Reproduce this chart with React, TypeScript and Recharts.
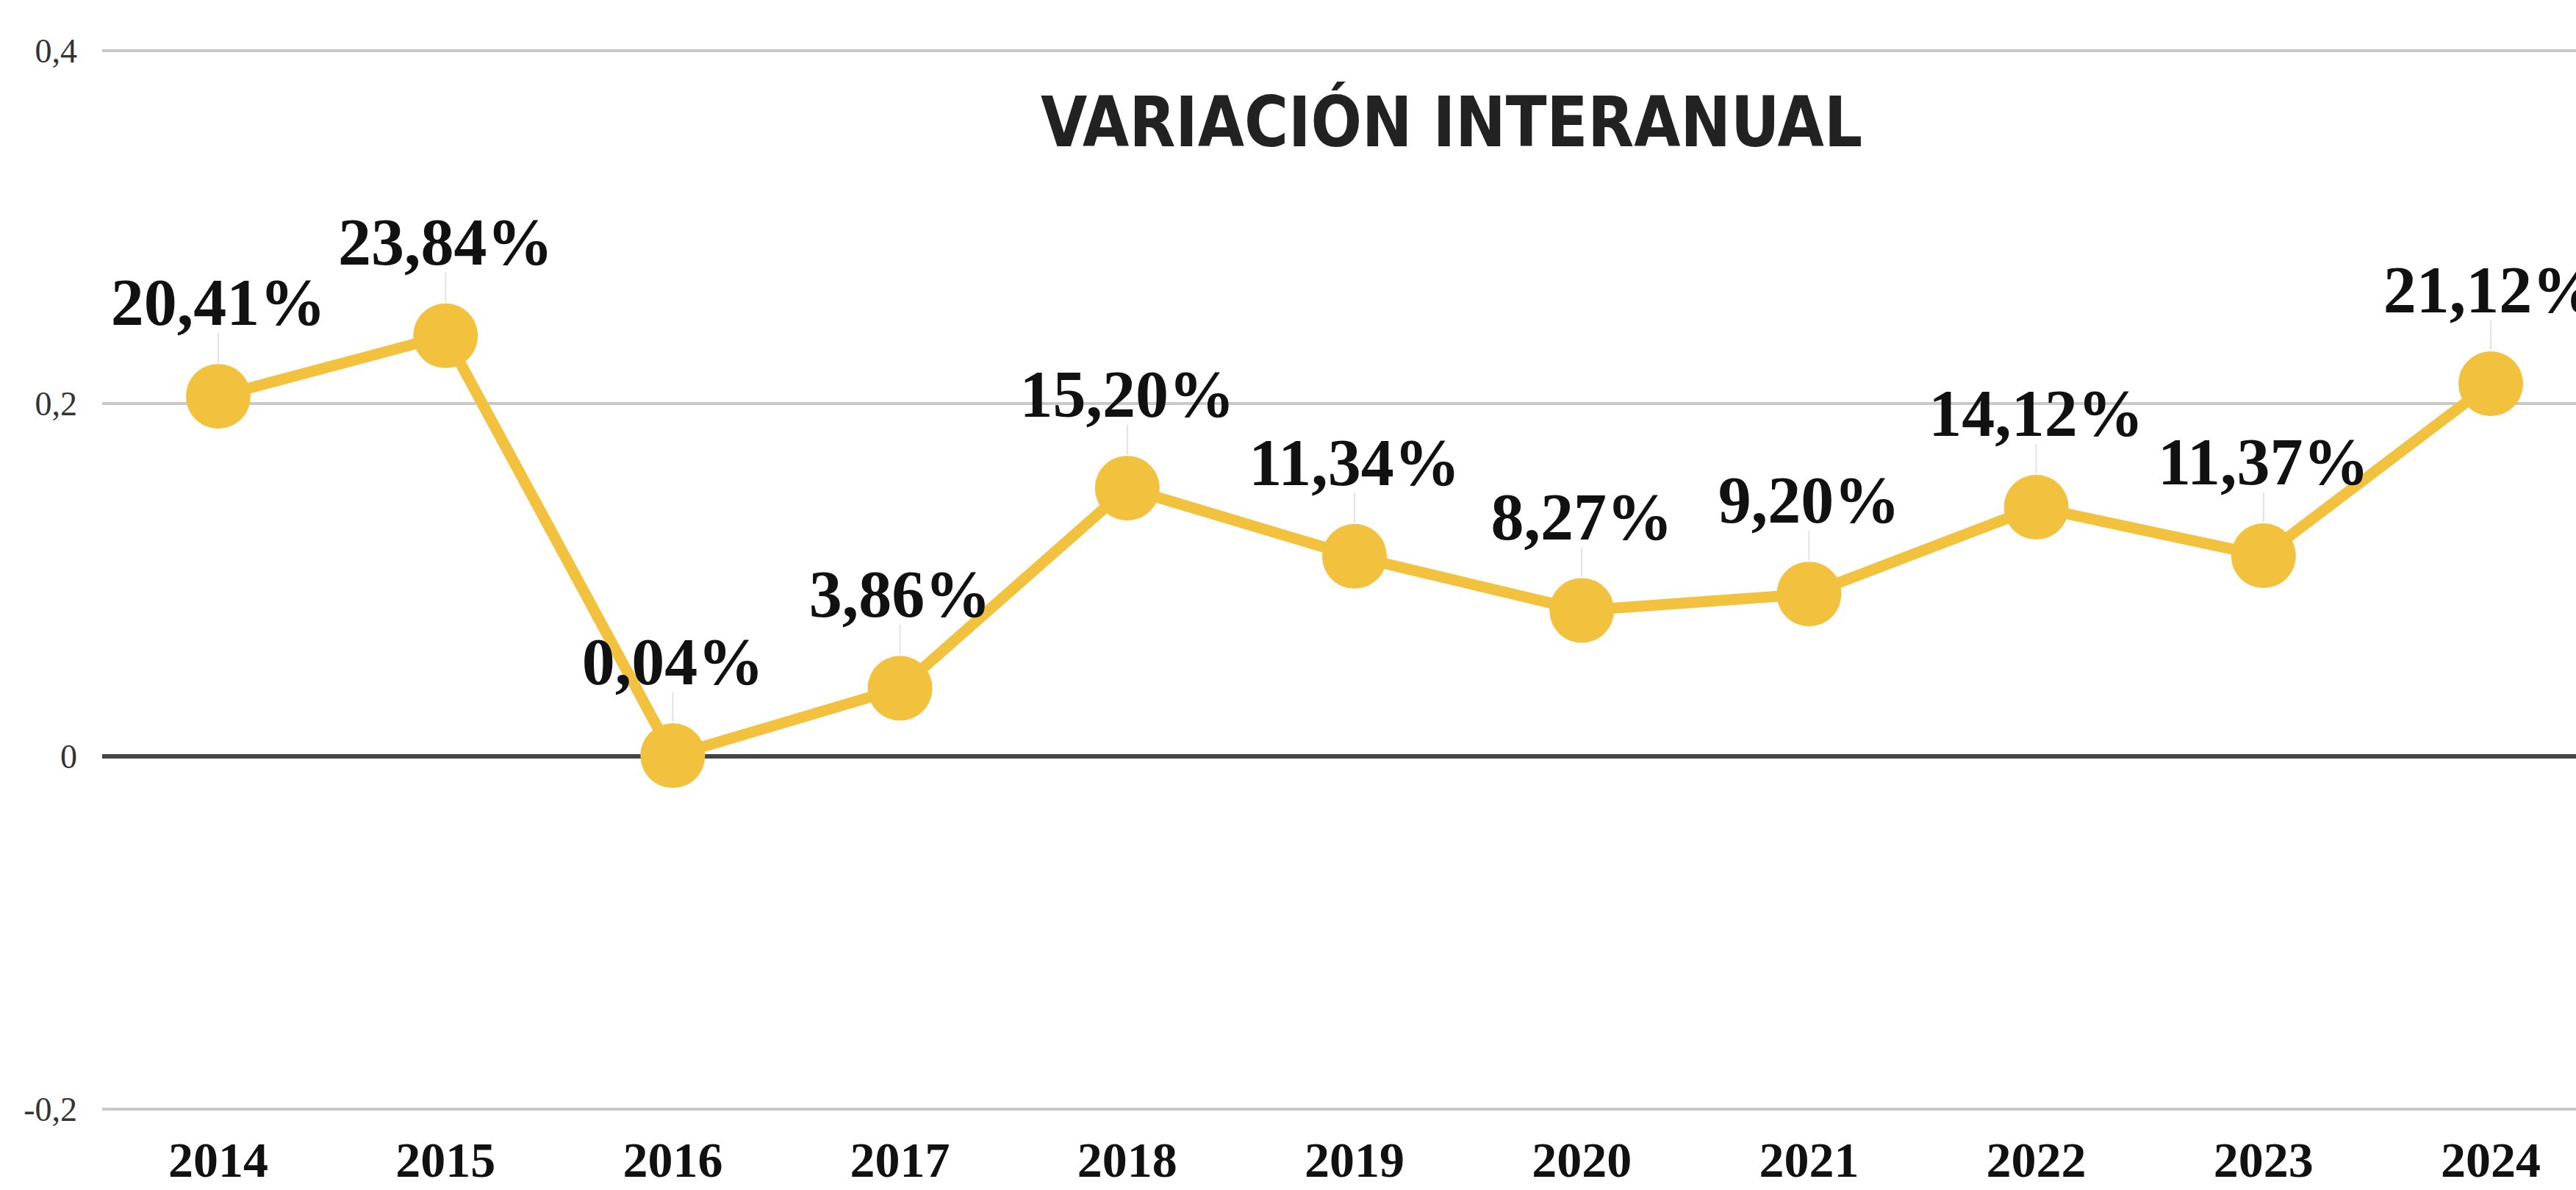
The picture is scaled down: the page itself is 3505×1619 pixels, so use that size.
import React from 'react';
import { LineChart, Line, XAxis, YAxis, CartesianGrid, ReferenceLine, LabelList } from 'recharts';

const years = ['2014', '2015', '2016', '2017', '2018', '2019', '2020', '2021', '2022', '2023', '2024'];
const variation = [0.2041, 0.2384, 0.0004, 0.0386, 0.152, 0.1134, 0.0827, 0.092, 0.1412, 0.1137, 0.2112];
const yTicks = [-0.2, 0, 0.2, 0.4];
const title = 'VARIACIÓN INTERANUAL';

const data = years.map((year, i) => ({ year, value: variation[i] }));

const W = 3505;
const H = 1619;
const YELLOW = '#F2C23F';

const fmtPct = (v: number) => (v * 100).toFixed(2).replace('.', ',') + '%';
const fmtTick = (v: number) => String(v).replace('.', ',');

const PointLabel = (props: any) => {
  const { x, y, value } = props;
  if (x == null || y == null) return null;
  return (
    <g>
      <line x1={x} x2={x} y1={y - 86} y2={y - 46} stroke="#e2e2e2" strokeWidth={2} />
      <text
        x={x}
        y={y - 97}
        textAnchor="middle"
        fontFamily="'Liberation Serif', 'Times New Roman', serif"
        fontWeight={700}
        fontSize={90}
        fill="#111"
      >
        {fmtPct(value)}
      </text>
    </g>
  );
};

export default function App() {
  return (
    <div style={{ position: 'absolute', left: 0, top: 0, width: W, height: H, background: '#fff', overflow: 'hidden' }}>
      <LineChart width={W} height={H} data={data} margin={{ top: 69, right: 0, bottom: 0, left: 0 }}>
        <CartesianGrid horizontal vertical={false} stroke="#c9c9c9" strokeWidth={4} />
        <XAxis
          dataKey="year"
          axisLine={false}
          tickLine={false}
          tickSize={0}
          tickMargin={44}
          height={110}
          padding={{ left: 158, right: 116 }}
          interval={0}
          tick={{ fontFamily: "'Liberation Serif', serif", fontWeight: 700, fontSize: 68, fill: '#111' }}
        />
        <YAxis
          domain={[-0.2, 0.4]}
          ticks={yTicks}
          width={139}
          axisLine={false}
          tickLine={false}
          tickSize={0}
          tickMargin={34}
          tickFormatter={fmtTick}
          tick={{ fontFamily: "'Liberation Serif', serif", fontSize: 46, fill: '#333' }}
        />
        <ReferenceLine y={0} stroke="#444" strokeWidth={6} />
        <Line
          type="linear"
          dataKey="value"
          stroke={YELLOW}
          strokeWidth={15}
          dot={{ r: 44, fill: YELLOW, stroke: 'none' }}
          activeDot={false}
          isAnimationActive={false}
        >
          <LabelList dataKey="value" content={<PointLabel />} />
        </Line>
      </LineChart>
      <svg width={W} height={H} style={{ position: 'absolute', left: 0, top: 0, pointerEvents: 'none' }}>
        <text
          x={1975}
          y={199}
          textAnchor="middle"
          fontFamily="'DejaVu Sans Condensed', 'DejaVu Sans', sans-serif"
          fontWeight={700}
          fontSize={94}
          fill="#222"
          textLength={1118}
          lengthAdjust="spacingAndGlyphs"
        >
          {title}
        </text>
      </svg>
    </div>
  );
}
